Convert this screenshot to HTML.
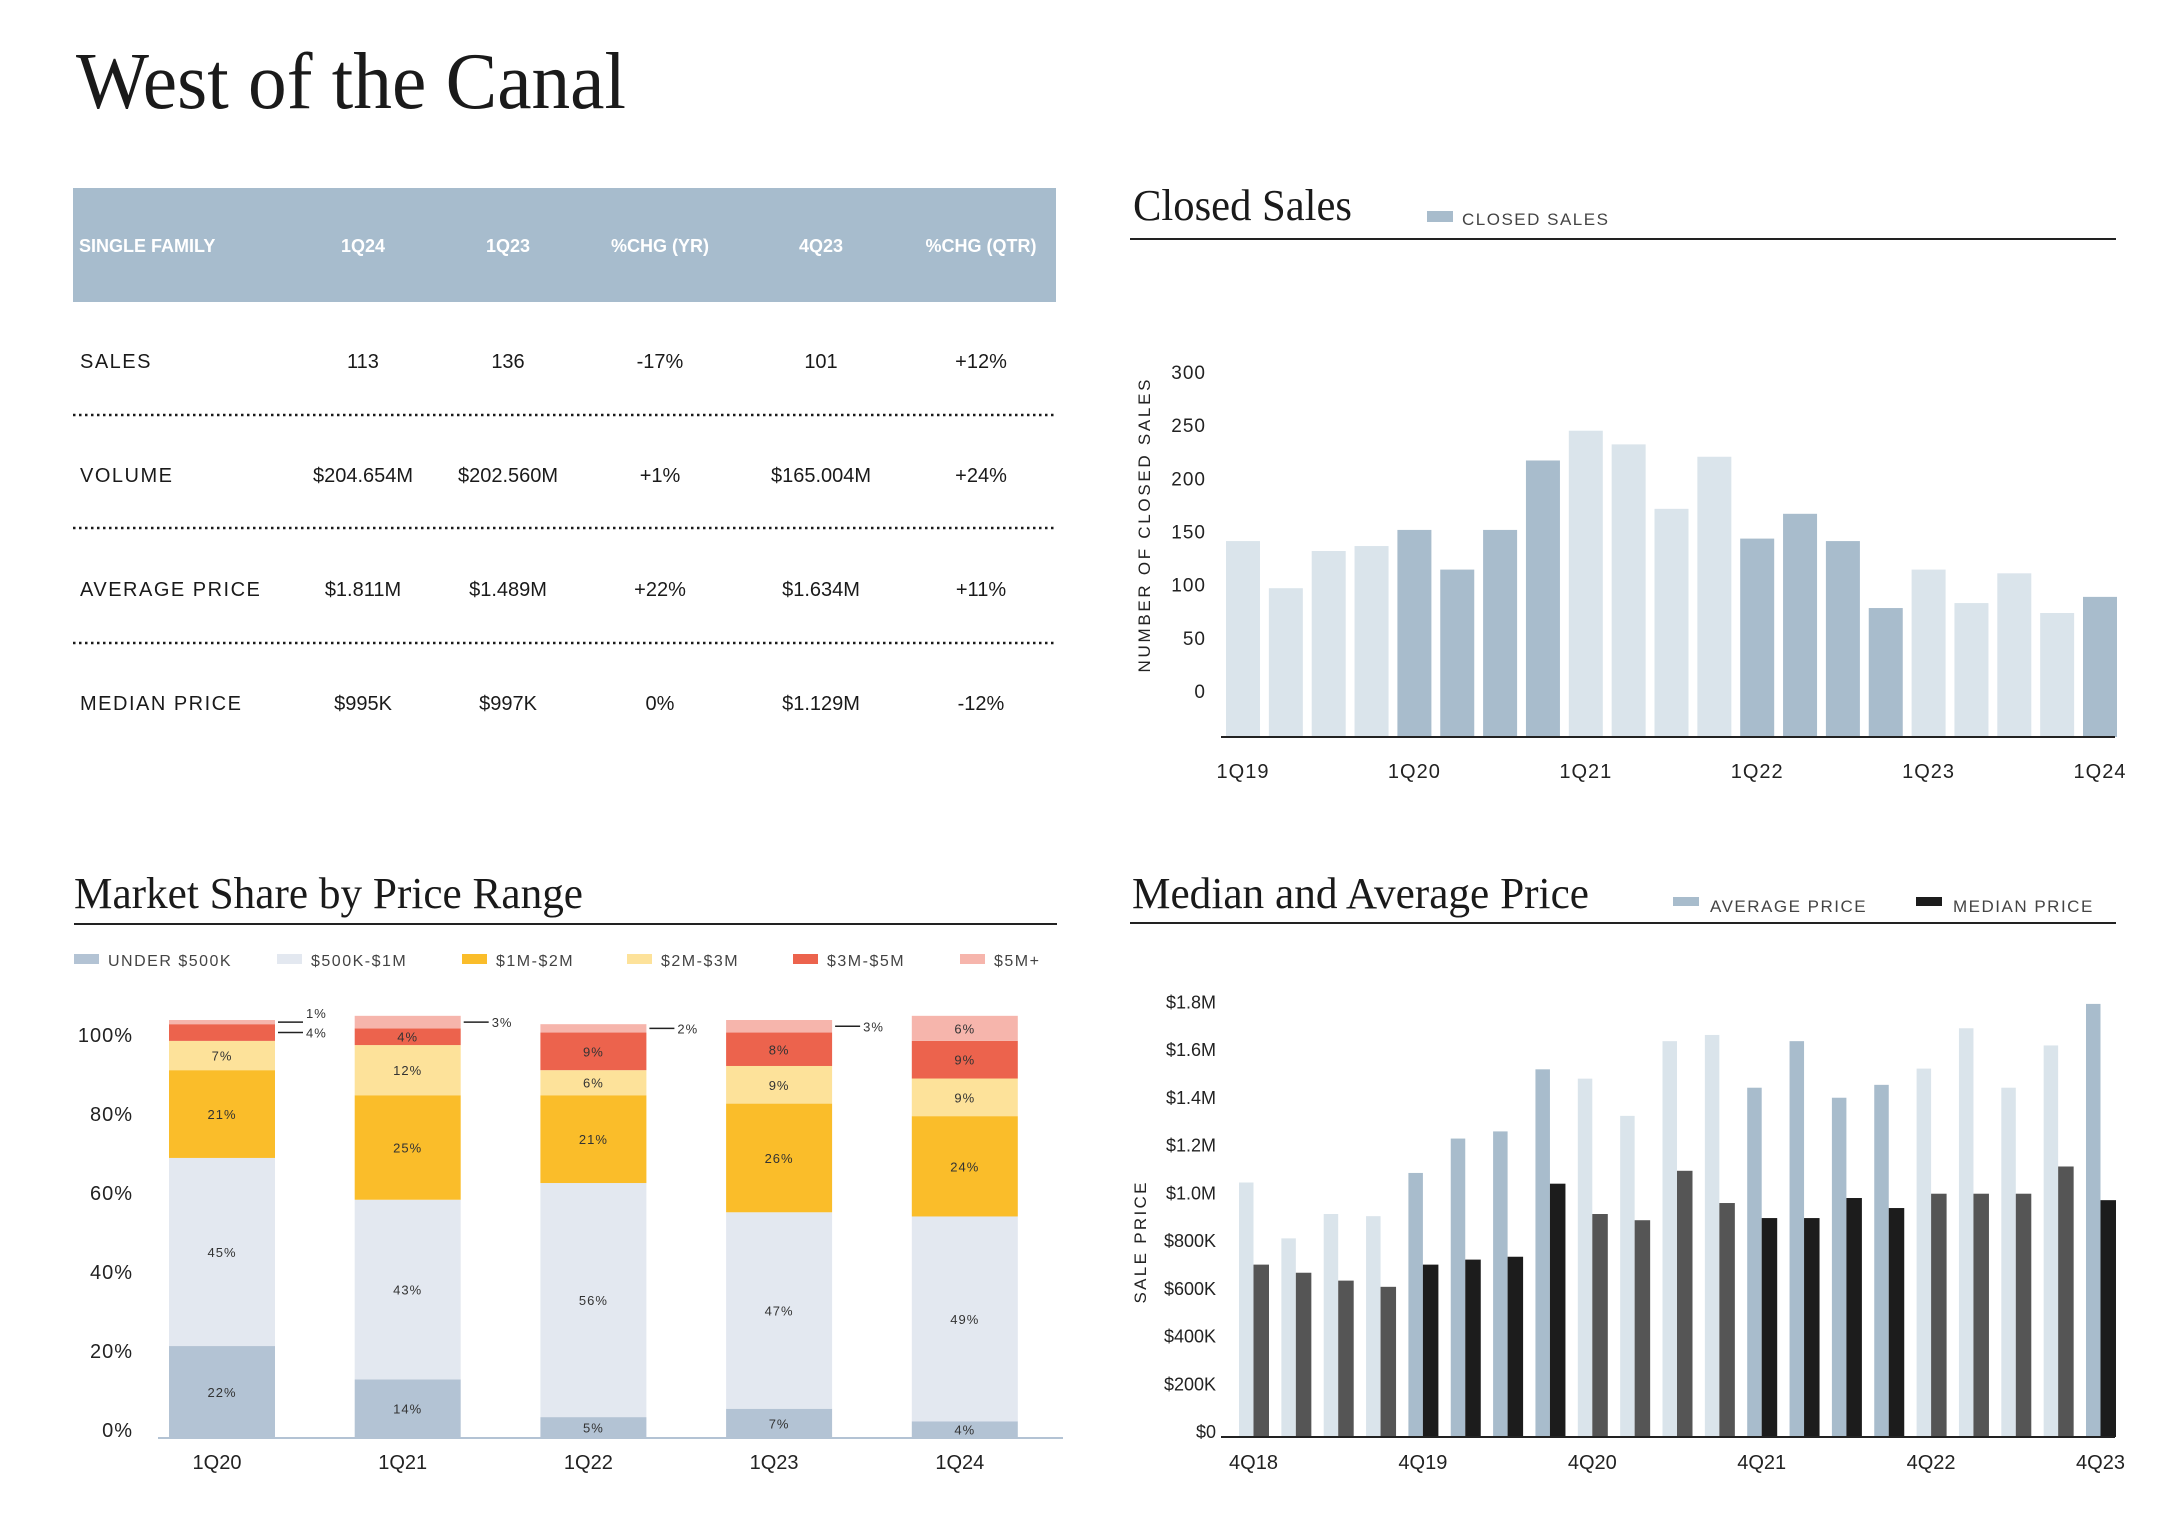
<!DOCTYPE html>
<html><head><meta charset="utf-8"><style>
html,body{margin:0;padding:0;background:#fff;}
svg{display:block;}
.sans{font-family:"Liberation Sans",sans-serif;}
.serif{font-family:"Liberation Serif",serif;}
</style></head><body>
<svg id="root" width="2176" height="1538" viewBox="0 0 2176 1538" xmlns="http://www.w3.org/2000/svg">
<text class="serif" x="76" y="108" font-size="80" textLength="550" lengthAdjust="spacingAndGlyphs" fill="#1a1a1a">West of the Canal</text>

<g class="sans">
<rect x="73" y="188" width="983" height="114" fill="#a7bccd"/>
<g fill="#fff" font-size="18" font-weight="bold" text-anchor="middle">
<text x="79" y="252" text-anchor="start">SINGLE FAMILY</text>
<text x="363" y="252">1Q24</text>
<text x="508" y="252">1Q23</text>
<text x="660" y="252">%CHG (YR)</text>
<text x="821" y="252">4Q23</text>
<text x="981" y="252">%CHG (QTR)</text>
</g>
<g fill="#1a1a1a" font-size="20" text-anchor="middle">
<g><text x="80" y="368" text-anchor="start" letter-spacing="1.5">SALES</text><text x="363" y="368">113</text><text x="508" y="368">136</text><text x="660" y="368">-17%</text><text x="821" y="368">101</text><text x="981" y="368">+12%</text></g>
<g><text x="80" y="482" text-anchor="start" letter-spacing="1.5">VOLUME</text><text x="363" y="482">$204.654M</text><text x="508" y="482">$202.560M</text><text x="660" y="482">+1%</text><text x="821" y="482">$165.004M</text><text x="981" y="482">+24%</text></g>
<g><text x="80" y="596" text-anchor="start" letter-spacing="1.5">AVERAGE PRICE</text><text x="363" y="596">$1.811M</text><text x="508" y="596">$1.489M</text><text x="660" y="596">+22%</text><text x="821" y="596">$1.634M</text><text x="981" y="596">+11%</text></g>
<g><text x="80" y="710" text-anchor="start" letter-spacing="1.5">MEDIAN PRICE</text><text x="363" y="710">$995K</text><text x="508" y="710">$997K</text><text x="660" y="710">0%</text><text x="821" y="710">$1.129M</text><text x="981" y="710">-12%</text></g>
</g>
<g stroke="#1a1a1a" stroke-width="2.5" stroke-dasharray="2.5,3.5">
<line x1="73" y1="415" x2="1056" y2="415"/>
<line x1="73" y1="528" x2="1056" y2="528"/>
<line x1="73" y1="643" x2="1056" y2="643"/>
</g>
</g>

<g id="closed"></g>
<g id="median"></g>
<g id="share"></g>
</svg>
<script>
// ---- Closed sales data ----
const csQuarters = ["1Q19","2Q19","3Q19","4Q19","1Q20","2Q20","3Q20","4Q20","1Q21","2Q21","3Q21","4Q21","1Q22","2Q22","3Q22","4Q22","1Q23","2Q23","3Q23","4Q23","1Q24"];
const csValues = [158,120,150,154,167,135,167,223,247,236,184,226,160,180,158,104,135,108,132,100,113];
const csTicks = [0,50,100,150,200,250,300];
const csXLabels = ["1Q19","1Q20","1Q21","1Q22","1Q23","1Q24"];
// ---- Median / average price data (in $M) ----
const mpQuarters = ["4Q18","1Q19","2Q19","3Q19","4Q19","1Q20","2Q20","3Q20","4Q20","1Q21","2Q21","3Q21","4Q21","1Q22","2Q22","3Q22","4Q22","1Q23","2Q23","3Q23","4Q23"];
const avgPrice = [1.066,0.832,0.934,0.925,1.106,1.250,1.280,1.540,1.501,1.345,1.658,1.684,1.463,1.658,1.421,1.475,1.543,1.712,1.463,1.640,1.814];
const medPrice = [0.722,0.688,0.655,0.629,0.722,0.743,0.755,1.061,0.934,0.908,1.115,0.980,0.917,0.917,1.001,0.959,1.019,1.019,1.019,1.133,0.992];
const mpTicks = [0,0.2,0.4,0.6,0.8,1.0,1.2,1.4,1.6,1.8];
const mpTickLabels = ["$0","$200K","$400K","$600K","$800K","$1.0M","$1.2M","$1.4M","$1.6M","$1.8M"];
const mpXLabels = ["4Q18","4Q19","4Q20","4Q21","4Q22","4Q23"];
// ---- Market share data (%) ----
const msYears = ["1Q20","1Q21","1Q22","1Q23","1Q24"];
const msRanges = ["UNDER $500K","$500K-$1M","$1M-$2M","$2M-$3M","$3M-$5M","$5M+"];
const msUnder500k = [22,14,5,7,4];
const ms500kTo1m = [45,43,56,47,49];
const ms1mTo2m = [21,25,21,26,24];
const ms2mTo3m = [7,12,6,9,9];
const ms3mTo5m = [4,4,9,8,9];
const ms5mPlus = [1,3,2,3,6];
const msTicks = [0,20,40,60,80,100];

const NS="http://www.w3.org/2000/svg";
function mk(tag, attrs, parent, txt){const e=document.createElementNS(NS,tag);for(const k in attrs)e.setAttribute(k,attrs[k]);if(txt!==undefined)e.textContent=txt;parent.appendChild(e);return e;}
const LIGHT="#dae4eb", DARK="#a8bccc";
function shade(i){return Math.floor(i/4)%2===0?0:1;}

// ===== Closed Sales =====
(function(){
const g=document.getElementById('closed');
let t=mk('text',{x:1133,y:220,'font-size':44,textLength:219,lengthAdjust:'spacingAndGlyphs',fill:'#1a1a1a','class':'serif'},g,'Closed Sales');


let r=mk('rect',{x:1427,y:211,width:26,height:11,fill:DARK},g);


t=mk('text',{x:1462,y:225,'font-size':17,fill:'#444','letter-spacing':1.5,'class':'sans'},g,'CLOSED SALES');


let l=mk('line',{x1:1130,y1:239,x2:2116,y2:239,stroke:'#222','stroke-width':2},g);


const axisY=737, x0=1226, pitch=42.85, bw=34;
const y=v=>axisY - v*1.24;
const tickY=v=>691 - v/300*(691-372);
const x=i=>x0+i*pitch;
csValues.forEach((v,i)=>{
 const b=mk('rect',{x:x(i),y:y(v),width:bw,height:axisY-y(v),fill:shade(i)?DARK:LIGHT},g);
 
 
});
l=mk('line',{x1:1221,y1:axisY,x2:2115,y2:axisY,stroke:'#222','stroke-width':2},g);


csTicks.forEach(v=>{
 const tt=mk('text',{x:1206,y:tickY(v)+7,'font-size':19,'text-anchor':'end',fill:'#222','class':'sans','letter-spacing':1},g,String(v));
 
 
});
csXLabels.forEach(q=>{
 const i=csQuarters.indexOf(q);
 const tt=mk('text',{x:x(i)+bw/2,y:778,'font-size':20,'text-anchor':'middle',fill:'#222','class':'sans','letter-spacing':1},g,q);
 
 
});
t=mk('text',{x:0,y:0,'font-size':17,fill:'#222','class':'sans','text-anchor':'middle',textLength:293,transform:'translate(1150,526) rotate(-90)'},g,'NUMBER OF CLOSED SALES');


})();

// ===== Median and Average Price =====
(function(){
const g=document.getElementById('median');
let t=mk('text',{x:1132,y:908,'font-size':44,textLength:457,lengthAdjust:'spacingAndGlyphs',fill:'#1a1a1a','class':'serif'},g,'Median and Average Price');


let r=mk('rect',{x:1673,y:897,width:26,height:9,fill:DARK},g);


t=mk('text',{x:1710,y:912,'font-size':17,fill:'#444','letter-spacing':1.5,'class':'sans'},g,'AVERAGE PRICE');


r=mk('rect',{x:1916,y:897,width:26,height:9,fill:'#1c1c1c'},g);


t=mk('text',{x:1953,y:912,'font-size':17,fill:'#444','letter-spacing':1.5,'class':'sans'},g,'MEDIAN PRICE');


let l=mk('line',{x1:1130,y1:923,x2:2116,y2:923,stroke:'#222','stroke-width':2},g);


const axisY=1437, x0=1239, pitch=42.35, bw=14.5;
const y=v=>axisY - v/0.2*47.75;
const x=i=>x0+i*pitch;
avgPrice.forEach((v,i)=>{
 const b=mk('rect',{x:x(i),y:y(v),width:bw,height:axisY-y(v),fill:shade(i)?DARK:LIGHT},g);
 
 
});
medPrice.forEach((v,i)=>{
 const b=mk('rect',{x:x(i)+bw,y:y(v),width:bw+1,height:axisY-y(v),fill:shade(i)?'#1c1c1c':'#555'},g);
 
 
});
l=mk('line',{x1:1221,y1:axisY,x2:2115,y2:axisY,stroke:'#222','stroke-width':2},g);


mpTicks.forEach((v,k)=>{
 const tt=mk('text',{x:1216,y:y(v)+1,'font-size':18,'text-anchor':'end',fill:'#222','class':'sans'},g,mpTickLabels[k]);
 
 
});
mpXLabels.forEach(q=>{
 const i=mpQuarters.indexOf(q);
 const tt=mk('text',{x:x(i)+bw,y:1469,'font-size':20,'text-anchor':'middle',fill:'#222','class':'sans'},g,q);
 
 
});
t=mk('text',{x:0,y:0,'font-size':17,fill:'#222','class':'sans','text-anchor':'middle',textLength:121,transform:'translate(1146,1243) rotate(-90)'},g,'SALE PRICE');


})();

// ===== Market Share =====
(function(){
const g=document.getElementById('share');
let t=mk('text',{x:74,y:908,'font-size':44,textLength:509,lengthAdjust:'spacingAndGlyphs',fill:'#1a1a1a','class':'serif'},g,'Market Share by Price Range');


let l=mk('line',{x1:74,y1:924,x2:1057,y2:924,stroke:'#222','stroke-width':2},g);


const colors=["#b3c3d4","#e3e8f0","#fabd2a","#fde29a","#ec634d","#f6b5ac"];
const legX=[74,277,462,627,793,960];
msRanges.forEach((name,k)=>{
 const s=mk('rect',{x:legX[k],y:954,width:25,height:10,fill:colors[k]},g);
 
 
 const tt=mk('text',{x:legX[k]+34,y:966,'font-size':16,fill:'#444','letter-spacing':1.5,'class':'sans'},g,name);
 
 
});
const series=[msUnder500k,ms500kTo1m,ms1mTo2m,ms2mTo3m,ms3mTo5m,ms5mPlus];
const axisY=1438, x0=169, pitch=185.7, bw=106, k=4.18;
const x=i=>x0+i*pitch;
msYears.forEach((yr,i)=>{
 let cum=0;
 series.forEach((s,j)=>{
  const v=s[i];
  const top=axisY-(cum+v)*k, h=v*k;
  const b=mk('rect',{x:x(i),y:top,width:bw,height:h,fill:colors[j]},g);
  
  
  if(v>=4 && !(j===4 && i===0)){
   const lt=mk('text',{x:x(i)+bw/2,y:top+h/2+5,'font-size':13,'text-anchor':'middle',fill:'#333','class':'sans','letter-spacing':1},g,v+'%');
   
   
  } else {
   const ly=top+h/2;
   const cl=mk('line',{x1:x(i)+bw+3,y1:ly,x2:x(i)+bw+28,y2:ly,stroke:'#222','stroke-width':1.5},g);
   
   
   const ct=mk('text',{x:x(i)+bw+31,y:ly+(j===5&&i===0?-4:5),'font-size':13,fill:'#333','class':'sans','letter-spacing':1},g,v+'%');
   
   
  }
  cum+=v;
 });
 const xt=mk('text',{x:x(i)+bw/2-5,y:1469,'font-size':20,'text-anchor':'middle',fill:'#222','class':'sans'},g,yr);
 
 
});
l=mk('line',{x1:158,y1:axisY,x2:1063,y2:axisY,stroke:'#b3c3d4','stroke-width':2},g);


msTicks.forEach(v=>{
 const tt=mk('text',{x:133,y:1429-v/100*395+8,'font-size':20,'text-anchor':'end',fill:'#222','class':'sans','letter-spacing':1},g,v+'%');
 
 
});
})();
</script>
</body></html>
